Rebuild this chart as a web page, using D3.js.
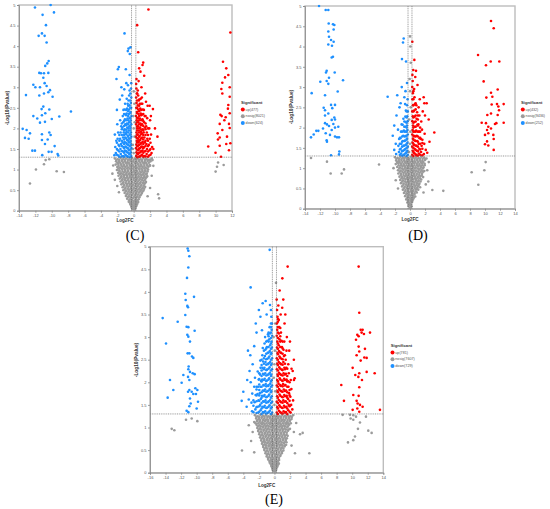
<!DOCTYPE html>
<html><head><meta charset="utf-8">
<script src="https://cdn.jsdelivr.net/npm/d3@7"></script>
<style>body{margin:0;background:#fff}svg{display:block}</style>
</head><body>
<script>
// ---------------- DATA ----------------
const yTicks = [0,0.5,1,1.5,2,2.5,3,3.5,4,4.5,5];
const C_xTicks = [-14,-12,-10,-8,-6,-4,-2,0,2,4,6,8,10,12];
const D_xTicks = [-14,-12,-10,-8,-6,-4,-2,0,2,4,6,8,10,12,14];
const E_xTicks = [-16,-14,-12,-10,-8,-6,-4,-2,0,2,4,6,8,10,12,14];
const pThreshold = 1.3;
const fcThreshold = 0.263;
const C_legend = ["up(477)","nosig(8021)","down(624)"];
const D_legend = ["up(432)","nosig(9436)","down(252)"];
const E_legend = ["up(781)","nosig(7607)","down(729)"];

// Panel C
const C_down = [
[-12.05,4.94],[-10.14,5.0],[-9.73,4.82],[-11.12,4.76],[-10.71,4.51],[-11.2,4.31],[-11.6,4.25],[-10.87,4.25],[-10.63,4.09],[-10.38,3.64],[-10.55,3.58],[-10.8,3.52],
[-11.52,3.35],[-11.32,3.34],[-10.95,3.34],[-10.42,3.35],[-11.03,3.23],[-12.25,3.06],[-12.0,3.0],[-11.44,3.0],[-10.87,3.1],[-10.63,3.03],[-10.22,2.93],[-10.42,2.88],
[-11.52,2.8],[-13.15,2.81],[-10.95,2.85],[-9.9,2.77],[-11.03,2.53],[-11.24,2.47],[-10.3,2.46],[-7.66,2.41],[-10.79,2.37],[-12.25,2.3],[-11.2,2.32],[-11.77,2.24],
[-10.0,2.23],[-9.08,2.29],[-11.44,2.14],[-10.83,2.16],[-13.07,1.96],[-13.55,1.99],[-12.66,1.88],[-11.2,1.86],[-10.3,1.9],[-10.14,1.84],[-10.5,1.73],[-13.27,1.77],
[-12.82,1.75],[-11.2,1.72],[-9.65,1.57],[-10.83,1.62],[-12.37,1.46],[-12.05,1.46],[-10.38,1.43],[-10.02,1.43],[-9.29,1.38],[-9.21,1.34],[-11.16,1.35],
[-1.12,4.31],[-0.63,3.94],[-0.39,3.97],[-0.72,3.88],[-0.48,3.81],[-1.81,3.49],[-1.93,3.44],[-0.96,3.44],[-2.1,3.2],[-1.5,3.0],[-0.9,3.1],[-1.7,2.7],[-2.05,2.45],
[-2.35,1.35],[-1.4,2.8],[-0.5,3.3],[-0.7,3.05],[-2.0,2.1],[-2.3,1.85],[-1.15,2.95],
[-0.3,1.33],[-0.35,1.42],[-0.28,1.52],[-0.33,1.61],[-0.38,1.7],[-0.29,1.8],[-0.34,1.9],[-0.4,2.0],[-0.3,2.1],[-0.36,2.2],[-0.28,2.3],[-0.39,2.4],[-0.31,2.5],[-0.35,2.62],[-0.3,2.75],[-0.4,2.85],[-0.33,2.97],[-0.3,3.1],
[-0.52,1.37],[-0.58,1.47],[-0.5,1.57],[-0.6,1.66],[-0.55,1.75],[-0.48,1.85],[-0.62,1.95],[-0.53,2.05],[-0.57,2.15],[-0.5,2.25],[-0.6,2.35],[-0.55,2.46],[-0.5,2.56],[-0.63,2.68],[-0.55,2.8],[-0.5,2.92],
[-0.78,1.32],[-0.82,1.42],[-0.75,1.52],[-0.85,1.62],[-0.8,1.72],[-0.73,1.82],[-0.88,1.92],[-0.78,2.02],[-0.83,2.12],[-0.76,2.24],[-0.86,2.36],[-0.8,2.48],[-0.74,2.6],[-0.85,2.72],
[-1.02,1.36],[-1.08,1.46],[-1.0,1.56],[-1.1,1.67],[-1.05,1.78],[-0.98,1.88],[-1.12,1.98],[-1.03,2.1],[-1.07,2.22],[-1.0,2.34],[-1.1,2.46],[-1.05,2.6],
[-1.28,1.33],[-1.33,1.44],[-1.25,1.55],[-1.35,1.66],[-1.3,1.78],[-1.22,1.9],[-1.38,2.02],[-1.28,2.15],[-1.33,2.3],[-1.25,2.45],
[-1.58,1.38],[-1.62,1.5],[-1.55,1.62],[-1.66,1.75],[-1.6,1.9],[-1.52,2.05],[-1.65,2.2],
[-1.88,1.34],[-1.93,1.47],[-1.85,1.6],[-1.96,1.75],[-1.9,1.9],
[-2.18,1.4],[-2.25,1.55],[-2.12,1.7]
];
const C_downCols = [
[-0.42,[1.3,1.39,1.48,1.57,1.66,1.76,1.85,1.95,2.05,2.15,2.26,2.37,2.5,2.68]],
[-0.67,[1.31,1.41,1.51,1.6,1.7,1.8,1.9,2.0,2.1,2.2,2.3,2.42,2.55]],
[-0.92,[1.34,1.45,1.55,1.65,1.76,1.86,1.97,2.08,2.2,2.32,2.45]],
[-1.17,[1.31,1.41,1.52,1.62,1.73,1.84,1.95,2.06,2.18,2.35]],
[-1.45,[1.32,1.45,1.57,1.7,1.84,1.98,2.12]],
[-1.75,[1.31,1.44,1.57,1.7,1.84]],
[-2.05,[1.36,1.5,1.65]]
];
const C_up = [
[11.8,4.33],[10.9,3.62],[11.3,3.46],[11.55,3.3],[11.15,3.24],[10.82,3.11],[11.72,3.0],[10.7,2.96],[10.82,2.85],[11.72,2.77],[11.55,2.57],[11.5,2.48],[11.72,2.37],
[10.58,2.33],[10.74,2.3],[11.23,2.27],[11.07,2.2],[10.5,2.11],[11.63,2.11],[11.72,2.01],[10.82,1.96],[10.25,1.88],[10.5,1.78],[11.39,1.8],[10.29,1.73],[9.1,1.56],
[10.5,1.58],[11.3,1.62],[11.63,1.47],[9.99,1.41],[10.66,1.31],[11.8,1.64],
[1.8,4.89],[0.42,4.51],[0.55,3.85],[1.16,3.6],[1.08,3.54],[0.67,3.46],[0.83,3.38],[1.28,3.28],[0.34,3.2],[0.6,3.15],[0.95,3.0],[1.4,2.85],[2.35,2.47],[2.1,2.3],
[2.9,1.8],[1.7,2.55],[2.4,1.5],[1.95,2.55],[2.6,2.0],[1.5,2.65],[2.0,2.2],
[0.3,1.33],[0.35,1.42],[0.28,1.52],[0.33,1.61],[0.38,1.7],[0.29,1.8],[0.34,1.9],[0.4,2.0],[0.3,2.1],[0.36,2.2],[0.28,2.3],[0.39,2.4],[0.31,2.5],[0.35,2.62],[0.3,2.75],[0.4,2.85],[0.33,2.97],[0.3,3.08],
[0.52,1.37],[0.58,1.47],[0.5,1.57],[0.6,1.66],[0.55,1.75],[0.48,1.85],[0.62,1.95],[0.53,2.05],[0.57,2.15],[0.5,2.25],[0.6,2.35],[0.55,2.46],[0.5,2.56],[0.63,2.68],[0.55,2.8],[0.5,2.92],
[0.78,1.32],[0.82,1.42],[0.75,1.52],[0.85,1.62],[0.8,1.72],[0.73,1.82],[0.88,1.92],[0.78,2.02],[0.83,2.12],[0.76,2.24],[0.86,2.36],[0.8,2.48],[0.74,2.6],[0.85,2.72],
[1.02,1.36],[1.08,1.46],[1.0,1.56],[1.1,1.67],[1.05,1.78],[0.98,1.88],[1.12,1.98],[1.03,2.1],[1.07,2.22],[1.0,2.34],[1.1,2.46],[1.05,2.6],[1.0,2.75],
[1.28,1.33],[1.33,1.44],[1.25,1.55],[1.35,1.66],[1.3,1.78],[1.22,1.9],[1.38,2.02],[1.28,2.15],[1.33,2.3],[1.25,2.45],
[1.58,1.38],[1.62,1.5],[1.55,1.62],[1.66,1.75],[1.6,1.9],[1.52,2.05],[1.65,2.25],
[1.88,1.34],[1.93,1.47],[1.85,1.6],[1.96,1.75],[1.9,2.0],
[2.18,1.4],[2.25,1.55],[2.12,1.85]
];
const C_upCols = [
[0.42,[1.3,1.39,1.48,1.57,1.66,1.76,1.85,1.95,2.05,2.15,2.26,2.37,2.5,2.68,2.85]],
[0.67,[1.31,1.41,1.51,1.6,1.7,1.8,1.9,2.0,2.1,2.2,2.3,2.42,2.55,2.7]],
[0.92,[1.34,1.45,1.55,1.65,1.76,1.86,1.97,2.08,2.2,2.32,2.45,2.6]],
[1.17,[1.31,1.41,1.52,1.62,1.73,1.84,1.95,2.06,2.18,2.35]],
[1.45,[1.32,1.45,1.57,1.7,1.84,1.98,2.12,2.3]],
[1.75,[1.31,1.44,1.57,1.7,1.84,2.0]],
[2.05,[1.36,1.5,1.65]]
];
const C_nosig = [
[-10.75,1.23],[-10.3,1.25],[-10.95,1.13],[-11.93,1.0],[-9.4,0.96],[-8.52,0.94],[-12.66,0.66],[10.3,1.17],[10.17,1.07],[10.98,1.11],[10.0,0.95],
[2.3,1.23],[2.4,1.09],[2.98,0.4],[3.1,0.3],[-2.6,0.9],[-2.3,0.75],[-2.0,0.6],[-1.8,0.45],[2.2,0.85],[2.0,0.55],[1.7,0.35],[-2.5,1.1],
[0.0,1.4],[-0.1,1.6],[0.1,1.8],[0.0,2.0],[-0.05,2.3],[0.08,2.6],[0.0,2.9],[-0.1,1.5],[0.12,2.15],
[-2.3,1.27],[-1.95,1.25],[-1.6,1.28],[-1.25,1.26],[-0.9,1.27],[-0.55,1.25],[-0.2,1.28],[0.15,1.26],[0.5,1.27],[0.85,1.25],[1.2,1.28],[1.55,1.26],[1.9,1.24],[2.2,1.27],
[-2.15,1.2],[-1.8,1.19],[-1.45,1.21],[-1.1,1.2],[-0.75,1.18],[-0.4,1.21],[-0.05,1.2],[0.3,1.19],[0.65,1.21],[1.0,1.2],[1.35,1.18],[1.7,1.21],[2.05,1.2],
[-2.2,1.12],[-1.9,1.14],[-1.55,1.13],[-1.2,1.12],[-0.85,1.14],[-0.5,1.13],[-0.15,1.12],[0.2,1.14],[0.55,1.13],[0.9,1.12],[1.25,1.14],[1.6,1.13],[1.95,1.11],
[-2.0,1.06],[-1.7,1.05],[-1.35,1.07],[-1.0,1.06],[-0.65,1.05],[-0.3,1.07],[0.05,1.06],[0.4,1.05],[0.75,1.07],[1.1,1.06],[1.45,1.05],[1.8,1.07],
[-2.05,0.99],[-1.75,0.98],[-1.4,1.0],[-1.05,0.99],[-0.7,0.98],[-0.35,1.0],[0.0,0.99],[0.35,0.98],[0.7,1.0],[1.05,0.99],[1.4,0.98],[1.75,1.0],
[-1.9,0.92],[-1.55,0.91],[-1.2,0.93],[-0.85,0.92],[-0.5,0.91],[-0.15,0.93],[0.2,0.92],[0.55,0.91],[0.9,0.93],[1.25,0.92],[1.6,0.9],
[-1.85,0.85],[-1.5,0.84],[-1.15,0.86],[-0.8,0.85],[-0.45,0.84],[-0.1,0.86],[0.25,0.85],[0.6,0.84],[0.95,0.86],[1.3,0.85],[1.65,0.84],
[-1.7,0.78],[-1.35,0.77],[-1.0,0.79],[-0.65,0.78],[-0.3,0.77],[0.05,0.79],[0.4,0.78],[0.75,0.77],[1.1,0.79],[1.45,0.78],
[-1.6,0.71],[-1.25,0.7],[-0.9,0.72],[-0.55,0.71],[-0.2,0.7],[0.15,0.72],[0.5,0.71],[0.85,0.7],[1.2,0.72],[1.5,0.7],
[-1.5,0.64],[-1.15,0.63],[-0.8,0.65],[-0.45,0.64],[-0.1,0.63],[0.25,0.65],[0.6,0.64],[0.95,0.63],[1.3,0.65],
[-1.35,0.57],[-1.0,0.56],[-0.65,0.58],[-0.3,0.57],[0.05,0.56],[0.4,0.58],[0.75,0.57],[1.1,0.56],[1.4,0.58],
[-1.25,0.5],[-0.9,0.49],[-0.55,0.51],[-0.2,0.5],[0.15,0.49],[0.5,0.51],[0.85,0.5],[1.2,0.49],
[-1.1,0.43],[-0.75,0.42],[-0.4,0.44],[-0.05,0.43],[0.3,0.42],[0.65,0.44],[1.0,0.43],
[-0.95,0.36],[-0.6,0.35],[-0.25,0.37],[0.1,0.36],[0.45,0.35],[0.8,0.37],
[-0.8,0.29],[-0.45,0.28],[-0.1,0.3],[0.25,0.29],[0.6,0.28],
[-0.6,0.22],[-0.3,0.21],[0.0,0.23],[0.3,0.22],[0.55,0.21],
[-0.4,0.15],[-0.12,0.14],[0.15,0.16],[0.4,0.15],
[-0.25,0.08],[0.0,0.09],[0.22,0.07],[-0.08,0.03],[0.08,0.02]
];
const C_nosigRows = [
[1.235,[-2.12,-1.77,-1.42,-1.07,-0.72,-0.37,-0.02,0.33,0.68,1.03,1.38,1.73,2.05]],
[1.165,[-2.0,-1.65,-1.3,-0.95,-0.6,-0.25,0.1,0.45,0.8,1.15,1.5,1.85]],
[1.095,[-1.85,-1.5,-1.15,-0.8,-0.45,-0.1,0.25,0.6,0.95,1.3,1.65,2.0]],
[1.025,[-1.85,-1.5,-1.15,-0.8,-0.45,-0.1,0.25,0.6,0.95,1.3,1.65]],
[0.955,[-1.72,-1.37,-1.02,-0.67,-0.32,0.03,0.38,0.73,1.08,1.43,1.7]],
[0.885,[-1.67,-1.32,-0.97,-0.62,-0.27,0.08,0.43,0.78,1.13,1.48]],
[0.815,[-1.52,-1.17,-0.82,-0.47,-0.12,0.23,0.58,0.93,1.28,1.55]],
[0.745,[-1.42,-1.07,-0.72,-0.37,-0.02,0.33,0.68,1.03,1.35]],
[0.675,[-1.32,-0.97,-0.62,-0.27,0.08,0.43,0.78,1.13,1.4]],
[0.605,[-1.2,-0.85,-0.5,-0.15,0.2,0.55,0.9,1.22]],
[0.535,[-1.08,-0.73,-0.38,-0.03,0.32,0.67,1.0,1.28]],
[0.465,[-0.98,-0.63,-0.28,0.07,0.42,0.77,1.08]],
[0.395,[-0.85,-0.5,-0.15,0.2,0.55,0.9]],
[0.325,[-0.7,-0.35,0.0,0.35,0.7]],
[0.255,[-0.55,-0.2,0.15,0.45]],
[0.185,[-0.45,-0.25,-0.02,0.22,0.45]],
[0.115,[-0.3,-0.05,0.15,0.32]],
[0.05,[-0.18,0.02,0.18]]
];

// Panel D
const D_down = [
[-12.13,5.0],[-11.24,4.9],[-10.89,4.9],[-10.84,4.57],[-10.27,4.55],[-10.09,4.53],[-10.18,4.42],[-10.89,4.37],[-10.8,4.24],[-10.53,4.16],[-10.18,4.12],[-10.89,4.05],
[-10.4,4.02],[-10.27,3.75],[-10.44,3.73],[-11.11,3.4],[-11.2,3.36],[-10.04,3.36],[-10.8,3.23],[-8.93,3.17],[-11.96,3.13],[-11.11,3.15],[-10.89,3.08],[-9.64,2.89],
[-13.11,2.85],[-11.33,2.8],[-10.53,2.56],[-10.0,2.56],[-11.51,2.49],[-11.33,2.43],[-10.36,2.48],[-10.89,2.35],[-11.33,2.3],[-10.09,2.25],[-10.0,2.2],[-10.44,2.19],
[-11.07,2.08],[-11.33,2.11],[-10.8,2.04],[-10.22,2.09],[-11.6,1.98],[-10.0,2.0],[-12.49,1.92],[-12.22,1.92],[-10.44,1.94],[-9.56,2.02],[-11.24,1.86],[-10.0,1.78],
[-9.73,1.76],[-9.47,1.76],[-12.84,1.83],[-13.2,1.76],[-10.67,1.82],[-11.11,1.69],[-11.07,1.65],[-9.42,1.41],[-9.47,1.34],[-10.53,1.32],
[-0.84,4.2],[-0.93,4.1],[-1.07,3.69],[-0.53,3.63],[-2.98,2.76],[-1.1,3.0],[-0.6,2.9],[-1.4,2.5],[-1.8,2.3],[-2.1,2.05],[-0.4,3.1],[-0.75,2.75],[-1.25,2.6],[-2.3,1.8],[-1.7,2.8],
[-0.3,1.33],[-0.36,1.43],[-0.29,1.53],[-0.34,1.63],[-0.4,1.73],[-0.3,1.83],[-0.35,1.94],[-0.41,2.05],[-0.31,2.16],[-0.37,2.28],[-0.3,2.4],[-0.4,2.55],[-0.33,2.7],
[-0.58,1.37],[-0.63,1.47],[-0.55,1.57],[-0.66,1.68],[-0.6,1.79],[-0.53,1.9],[-0.68,2.02],[-0.58,2.14],[-0.62,2.27],[-0.55,2.42],[-0.65,2.58],
[-0.88,1.32],[-0.93,1.43],[-0.85,1.55],[-0.96,1.67],[-0.9,1.8],[-0.82,1.93],[-0.98,2.07],[-0.88,2.22],
[-1.18,1.36],[-1.24,1.48],[-1.15,1.6],[-1.27,1.74],[-1.2,1.9],[-1.12,2.08],
[-1.48,1.4],[-1.55,1.55],[-1.45,1.72],[-1.6,1.95],
[-1.85,1.35],[-1.9,1.6],[-2.1,1.45]
];
const D_downCols = [
[-0.45,[1.3,1.4,1.5,1.6,1.7,1.8,1.9,2.0,2.12,2.25,2.4]],
[-0.75,[1.34,1.45,1.56,1.67,1.78,1.9,2.02,2.15]],
[-1.05,[1.31,1.42,1.53,1.65,1.78,1.9]],
[-1.35,[1.33,1.46,1.6,1.75]]
];
const D_up = [
[10.8,4.63],[11.16,4.45],[9.07,3.79],[10.76,3.63],[11.91,3.63],[10.13,3.54],[9.82,3.14],[11.69,2.94],[10.8,2.86],[10.98,2.76],[10.18,2.74],[12.49,2.58],[10.89,2.57],
[11.6,2.58],[11.78,2.52],[11.87,2.43],[10.8,2.35],[11.69,2.31],[10.31,2.31],[9.56,2.12],[10.13,2.11],[12.49,2.12],[11.33,2.09],[11.51,2.11],[10.44,2.02],[10.27,1.94],
[10.8,1.98],[10.44,1.86],[11.11,1.82],[11.16,1.72],[10.0,1.82],[10.27,1.66],[10.0,1.59],[10.44,1.56],[11.16,1.45],
[0.31,4.12],[0.58,3.67],[0.44,3.42],[0.7,3.25],[3.24,1.88],[2.49,2.2],[1.91,2.6],[2.22,2.6],[1.82,2.75],[1.0,3.05],[1.3,2.7],[0.8,3.4],[2.6,1.65],[1.7,2.4],[2.0,2.3],
[0.3,1.33],[0.36,1.43],[0.29,1.53],[0.34,1.63],[0.4,1.73],[0.3,1.83],[0.35,1.94],[0.41,2.05],[0.31,2.16],[0.37,2.28],[0.3,2.4],[0.4,2.55],[0.33,2.7],[0.38,2.85],[0.3,3.0],[0.36,3.15],[0.32,3.3],
[0.58,1.37],[0.63,1.47],[0.55,1.57],[0.66,1.68],[0.6,1.79],[0.53,1.9],[0.68,2.02],[0.58,2.14],[0.62,2.27],[0.55,2.42],[0.65,2.58],[0.6,2.75],[0.55,2.95],
[0.88,1.32],[0.93,1.43],[0.85,1.55],[0.96,1.67],[0.9,1.8],[0.82,1.93],[0.98,2.07],[0.88,2.22],[0.95,2.38],[0.85,2.55],
[1.18,1.36],[1.24,1.48],[1.15,1.6],[1.27,1.74],[1.2,1.9],[1.12,2.08],[1.25,2.3],[1.15,2.5],
[1.48,1.4],[1.55,1.55],[1.45,1.72],[1.6,1.95],[1.5,2.15],
[1.85,1.35],[1.9,1.6],[2.1,1.45],[1.95,1.85],[2.3,1.38]
];
const D_upCols = [
[0.45,[1.3,1.4,1.5,1.6,1.7,1.8,1.9,2.0,2.12,2.25,2.4,2.55,2.7,2.9]],
[0.75,[1.34,1.45,1.56,1.67,1.78,1.9,2.02,2.15,2.3,2.45,2.6]],
[1.05,[1.31,1.42,1.53,1.65,1.78,1.9,2.05,2.2,2.3]],
[1.35,[1.33,1.46,1.6,1.75,1.9,2.0]],
[1.65,[1.32,1.48,1.62,1.7]]
];
const D_nosig = [
[-13.2,1.25],[-11.07,1.16],[-10.58,0.87],[-9.11,0.87],[-8.8,0.97],[-4.13,1.09],[2.98,0.46],[4.44,0.44],[2.44,0.67],[10.09,1.15],[9.91,0.95],[8.22,0.9],[9.11,0.59],
[-2.2,1.0],[-1.9,0.7],[2.3,0.95],[2.1,0.6],[-1.6,0.5],[1.8,0.4],[2.5,1.15],
[0.0,4.25],[0.05,4.0],[0.1,3.6],[-0.05,3.2],[0.0,2.9],[0.1,2.5],[-0.1,2.2],[0.05,1.9],[0.0,1.6],[-0.12,1.4],
[-2.0,1.27],[-1.65,1.25],[-1.3,1.28],[-0.95,1.26],[-0.6,1.27],[-0.25,1.25],[0.1,1.28],[0.45,1.26],[0.8,1.27],[1.15,1.25],[1.5,1.28],[1.85,1.26],[2.2,1.24],
[-1.85,1.19],[-1.5,1.18],[-1.15,1.2],[-0.8,1.19],[-0.45,1.18],[-0.1,1.2],[0.25,1.19],[0.6,1.18],[0.95,1.2],[1.3,1.19],[1.65,1.18],[2.0,1.2],
[-1.9,1.1],[-1.55,1.12],[-1.2,1.11],[-0.85,1.1],[-0.5,1.12],[-0.15,1.11],[0.2,1.1],[0.55,1.12],[0.9,1.11],[1.25,1.1],[1.6,1.12],[1.95,1.11],
[-1.7,1.03],[-1.35,1.02],[-1.0,1.04],[-0.65,1.03],[-0.3,1.02],[0.05,1.04],[0.4,1.03],[0.75,1.02],[1.1,1.04],[1.45,1.03],[1.8,1.02],
[-1.6,0.95],[-1.25,0.94],[-0.9,0.96],[-0.55,0.95],[-0.2,0.94],[0.15,0.96],[0.5,0.95],[0.85,0.94],[1.2,0.96],[1.55,0.95],[1.9,0.93],
[-1.55,0.87],[-1.2,0.86],[-0.85,0.88],[-0.5,0.87],[-0.15,0.86],[0.2,0.88],[0.55,0.87],[0.9,0.86],[1.25,0.88],[1.6,0.87],
[-1.4,0.79],[-1.05,0.78],[-0.7,0.8],[-0.35,0.79],[0.0,0.78],[0.35,0.8],[0.7,0.79],[1.05,0.78],[1.4,0.8],[1.75,0.78],
[-1.3,0.71],[-0.95,0.7],[-0.6,0.72],[-0.25,0.71],[0.1,0.7],[0.45,0.72],[0.8,0.71],[1.15,0.7],[1.5,0.72],
[-1.2,0.63],[-0.85,0.62],[-0.5,0.64],[-0.15,0.63],[0.2,0.62],[0.55,0.64],[0.9,0.63],[1.25,0.62],
[-1.05,0.55],[-0.7,0.54],[-0.35,0.56],[0.0,0.55],[0.35,0.54],[0.7,0.56],[1.05,0.55],[1.35,0.53],
[-0.95,0.47],[-0.6,0.46],[-0.25,0.48],[0.1,0.47],[0.45,0.46],[0.8,0.48],[1.1,0.47],
[-0.8,0.39],[-0.45,0.38],[-0.1,0.4],[0.25,0.39],[0.6,0.38],[0.9,0.4],
[-0.65,0.31],[-0.3,0.3],[0.05,0.32],[0.4,0.31],[0.7,0.3],
[-0.5,0.23],[-0.2,0.22],[0.1,0.24],[0.4,0.23],
[-0.35,0.15],[-0.05,0.14],[0.25,0.16],
[-0.2,0.07],[0.05,0.08],[0.2,0.06],[-0.05,0.02],[0.08,0.03]
];
const D_nosigRows = [
[1.23,[-1.82,-1.47,-1.12,-0.77,-0.42,-0.07,0.28,0.63,0.98,1.33,1.68,2.03]],
[1.15,[-1.72,-1.37,-1.02,-0.67,-0.32,0.03,0.38,0.73,1.08,1.43,1.78]],
[1.07,[-1.52,-1.17,-0.82,-0.47,-0.12,0.23,0.58,0.93,1.28,1.63,1.95]],
[0.99,[-1.42,-1.07,-0.72,-0.37,-0.02,0.33,0.68,1.03,1.38,1.72]],
[0.91,[-1.37,-1.02,-0.67,-0.32,0.03,0.38,0.73,1.08,1.43,1.75]],
[0.83,[-1.22,-0.87,-0.52,-0.17,0.18,0.53,0.88,1.23,1.58]],
[0.75,[-1.12,-0.77,-0.42,-0.07,0.28,0.63,0.98,1.33]],
[0.67,[-1.02,-0.67,-0.32,0.03,0.38,0.73,1.08,1.4]],
[0.59,[-0.87,-0.52,-0.17,0.18,0.53,0.88,1.2]],
[0.51,[-0.77,-0.42,-0.07,0.28,0.63,0.95]],
[0.43,[-0.62,-0.27,0.08,0.43,0.78]],
[0.35,[-0.47,-0.12,0.23,0.58]],
[0.27,[-0.35,-0.05,0.25,0.52]],
[0.19,[-0.25,0.05,0.3]],
[0.11,[-0.12,0.1]]
];

// Panel E
const E_down = [
[-11.16,4.96],[-11.07,4.91],[-10.94,4.79],[-11.07,4.54],[-11.24,4.31],[-11.46,3.96],[-10.34,3.89],[-11.41,3.82],[-11.2,3.69],[-11.11,3.66],[-11.46,3.49],[-14.37,3.42],
[-12.44,3.34],[-11.29,3.23],[-11.07,3.22],[-10.26,3.14],[-11.2,3.05],[-11.07,3.01],[-13.94,2.86],[-10.86,2.9],[-11.16,2.64],[-10.94,2.64],[-10.6,2.57],[-10.43,2.54],
[-11.03,2.35],[-11.07,2.29],[-10.86,2.23],[-10.51,2.2],[-10.26,2.18],[-11.71,2.16],[-11.11,2.12],[-13.43,2.05],[-11.93,1.99],[-10.94,2.05],[-10.17,1.87],[-10.94,1.83],
[-11.11,1.79],[-10.64,1.79],[-9.91,1.83],[-10.43,1.74],[-13.0,1.83],[-10.09,1.74],[-13.73,1.66],[-9.83,1.57],[-10.86,1.64],[-10.77,1.53],[-10.94,1.47],[-10.0,1.42],
[-11.29,1.37],[-11.07,1.34],
[-0.61,4.93],[-3.06,4.1],[-1.13,3.8],[-1.51,3.75],[-0.57,3.71],[-4.0,1.79],[-4.21,1.59],[-3.57,1.46],[-3.3,1.62],[-2.0,3.6],[-1.8,3.45],[-2.3,3.1],[-2.6,2.8],
[-3.1,2.6],[-3.4,2.7],[-2.8,2.4],[-3.2,2.25],[-1.0,3.5],[-0.45,3.6],[-2.4,3.3],[-1.6,3.15],[-3.5,2.05],
[-0.3,1.33],[-0.36,1.45],[-0.29,1.57],[-0.34,1.69],[-0.4,1.81],[-0.3,1.93],[-0.35,2.05],[-0.41,2.17],[-0.31,2.29],[-0.37,2.41],[-0.3,2.53],[-0.4,2.65],[-0.33,2.77],[-0.38,2.9],[-0.3,3.03],[-0.36,3.16],[-0.32,3.3],[-0.4,3.45],
[-0.58,1.37],[-0.63,1.49],[-0.55,1.61],[-0.66,1.73],[-0.6,1.85],[-0.53,1.97],[-0.68,2.09],[-0.58,2.21],[-0.62,2.33],[-0.55,2.45],[-0.65,2.57],[-0.6,2.69],[-0.55,2.82],[-0.66,2.95],[-0.58,3.08],[-0.62,3.22],
[-0.88,1.32],[-0.93,1.44],[-0.85,1.56],[-0.96,1.68],[-0.9,1.8],[-0.82,1.92],[-0.98,2.04],[-0.88,2.16],[-0.95,2.28],[-0.85,2.4],[-0.92,2.52],[-0.86,2.65],[-0.97,2.78],[-0.9,2.92],[-0.84,3.06],
[-1.18,1.36],[-1.24,1.48],[-1.15,1.6],[-1.27,1.72],[-1.2,1.84],[-1.12,1.96],[-1.25,2.08],[-1.18,2.2],[-1.28,2.32],[-1.15,2.45],[-1.22,2.58],[-1.17,2.72],[-1.27,2.86],[-1.2,3.0],
[-1.48,1.34],[-1.55,1.46],[-1.45,1.58],[-1.58,1.7],[-1.5,1.82],[-1.42,1.94],[-1.56,2.06],[-1.48,2.19],[-1.53,2.32],[-1.45,2.46],[-1.55,2.6],[-1.5,2.76],
[-1.78,1.38],[-1.84,1.5],[-1.75,1.63],[-1.88,1.76],[-1.8,1.9],[-1.72,2.03],[-1.85,2.17],[-1.78,2.32],[-1.82,2.48],
[-2.08,1.33],[-2.15,1.46],[-2.05,1.6],[-2.18,1.74],[-2.1,1.9],[-2.02,2.06],[-2.15,2.24],
[-2.45,1.4],[-2.55,1.56],[-2.42,1.72],[-2.6,1.9],[-2.5,2.1],
[-2.88,1.36],[-2.95,1.55],[-2.85,1.75],[-3.05,2.0]
];
const E_downCols = [
[-0.45,[1.3,1.42,1.54,1.66,1.78,1.9,2.02,2.14,2.26,2.38,2.5,2.62,2.74,2.86,2.98,3.1,3.22,3.3]],
[-0.75,[1.34,1.46,1.58,1.7,1.82,1.94,2.06,2.18,2.3,2.42,2.54,2.66,2.78,2.9,3.02,3.1]],
[-1.05,[1.31,1.43,1.55,1.67,1.79,1.91,2.03,2.15,2.27,2.39,2.51,2.63,2.75,2.9]],
[-1.35,[1.33,1.45,1.57,1.69,1.81,1.93,2.05,2.17,2.29,2.41,2.53,2.7]],
[-1.65,[1.3,1.42,1.54,1.66,1.78,1.9,2.02,2.14,2.26,2.38,2.5]],
[-1.95,[1.35,1.47,1.59,1.71,1.83,1.95,2.07,2.2]],
[-2.3,[1.32,1.45,1.58,1.71,1.84,1.9]],
[-2.7,[1.34,1.48,1.6]]
];
const E_up = [
[10.83,4.56],[10.91,3.54],[11.09,3.16],[11.34,3.16],[11.21,3.1],[12.29,3.1],[10.66,3.05],[10.83,3.02],[10.49,2.94],[11.51,3.07],[10.83,2.79],[11.64,2.74],[10.91,2.68],
[10.57,2.6],[11.56,2.55],[11.86,2.54],[11.09,2.48],[10.06,2.32],[11.86,2.23],[12.89,2.2],[10.4,2.16],[10.79,2.12],[10.91,2.2],[11.26,2.05],[8.6,1.94],[10.91,1.89],
[10.14,1.72],[10.83,1.7],[8.94,1.59],[10.57,1.59],[11.0,1.5],[11.34,1.46],[10.06,1.39],[10.66,1.42],[10.91,1.35],[13.57,1.39],[10.7,1.53],
[1.7,4.56],[1.02,4.3],[0.67,4.03],[0.29,3.83],[1.14,3.83],[2.6,2.09],[2.51,2.05],[0.8,3.5],[1.3,3.3],[1.0,3.65],[1.6,3.0],[2.4,1.6],[2.5,2.5],[1.9,2.7],[2.3,1.4],
[0.5,3.7],[1.4,3.5],[2.0,2.9],[2.35,2.25],
[0.3,1.33],[0.36,1.45],[0.29,1.57],[0.34,1.69],[0.4,1.81],[0.3,1.93],[0.35,2.05],[0.41,2.17],[0.31,2.29],[0.37,2.41],[0.3,2.53],[0.4,2.65],[0.33,2.77],[0.38,2.9],[0.3,3.03],[0.36,3.16],[0.32,3.3],[0.4,3.45],[0.34,3.6],
[0.58,1.37],[0.63,1.49],[0.55,1.61],[0.66,1.73],[0.6,1.85],[0.53,1.97],[0.68,2.09],[0.58,2.21],[0.62,2.33],[0.55,2.45],[0.65,2.57],[0.6,2.69],[0.55,2.82],[0.66,2.95],[0.58,3.08],[0.62,3.22],[0.56,3.38],
[0.88,1.32],[0.93,1.44],[0.85,1.56],[0.96,1.68],[0.9,1.8],[0.82,1.92],[0.98,2.04],[0.88,2.16],[0.95,2.28],[0.85,2.4],[0.92,2.52],[0.86,2.65],[0.97,2.78],[0.9,2.92],[0.84,3.1],
[1.18,1.36],[1.24,1.48],[1.15,1.6],[1.27,1.72],[1.2,1.84],[1.12,1.96],[1.25,2.08],[1.18,2.2],[1.28,2.32],[1.15,2.45],[1.22,2.58],[1.17,2.72],[1.27,2.9],
[1.48,1.34],[1.55,1.46],[1.45,1.58],[1.58,1.7],[1.5,1.82],[1.42,1.94],[1.56,2.06],[1.48,2.19],[1.53,2.32],[1.45,2.5],[1.55,2.7],
[1.78,1.38],[1.84,1.5],[1.75,1.63],[1.88,1.76],[1.8,1.9],[1.72,2.03],[1.85,2.2],[1.78,2.4],
[2.08,1.33],[2.15,1.5],[2.05,1.68],[2.18,1.85],[2.1,2.05],[2.2,2.3]
];
const E_upCols = [
[0.45,[1.3,1.42,1.54,1.66,1.78,1.9,2.02,2.14,2.26,2.38,2.5,2.62,2.74,2.86,2.98,3.1,3.22,3.34,3.4]],
[0.75,[1.34,1.46,1.58,1.7,1.82,1.94,2.06,2.18,2.3,2.42,2.54,2.66,2.78,2.9,3.02,3.2]],
[1.05,[1.31,1.43,1.55,1.67,1.79,1.91,2.03,2.15,2.27,2.39,2.51,2.63,2.75,2.9]],
[1.35,[1.33,1.45,1.57,1.69,1.81,1.93,2.05,2.17,2.29,2.41,2.6]],
[1.65,[1.3,1.42,1.54,1.66,1.78,1.9,2.02,2.14,2.3]],
[1.95,[1.35,1.47,1.59,1.71,1.83,2.0]]
];
const E_nosig = [
[-11.37,1.17],[-10.64,1.2],[-9.91,1.14],[-13.21,0.97],[-12.87,0.94],[8.77,1.28],[9.71,1.28],[10.14,1.27],[9.8,1.2],[10.14,1.17],[10.49,1.24],[11.0,1.11],[10.74,0.97],
[10.36,0.8],[10.14,0.72],[9.46,0.67],[11.77,1.24],[12.07,0.93],[12.5,0.88],[-4.17,0.49],[3.63,0.88],[3.29,0.85],[4.49,0.43],[2.64,0.43],[-2.8,0.9],[-3.0,0.7],
[-2.6,0.45],[2.5,0.9],[2.8,1.1],[-3.3,1.05],[2.2,0.6],
[0.2,4.2],[-0.1,3.0],[0.05,2.7],[0.0,2.4],[-0.08,2.1],[0.1,1.8],[0.0,1.5],[0.1,3.3],
[-2.5,1.27],[-2.15,1.25],[-1.8,1.28],[-1.45,1.26],[-1.1,1.27],[-0.75,1.25],[-0.4,1.28],[-0.05,1.26],[0.3,1.27],[0.65,1.25],[1.0,1.28],[1.35,1.26],[1.7,1.27],[2.05,1.25],[2.4,1.27],
[-2.35,1.2],[-2.0,1.19],[-1.65,1.21],[-1.3,1.2],[-0.95,1.18],[-0.6,1.21],[-0.25,1.2],[0.1,1.19],[0.45,1.21],[0.8,1.2],[1.15,1.18],[1.5,1.21],[1.85,1.2],[2.2,1.19],
[-2.6,1.12],[-2.25,1.14],[-1.9,1.13],[-1.55,1.12],[-1.2,1.14],[-0.85,1.13],[-0.5,1.12],[-0.15,1.14],[0.2,1.13],[0.55,1.12],[0.9,1.14],[1.25,1.13],[1.6,1.12],[1.95,1.14],
[-2.3,1.06],[-1.95,1.05],[-1.6,1.07],[-1.25,1.06],[-0.9,1.05],[-0.55,1.07],[-0.2,1.06],[0.15,1.05],[0.5,1.07],[0.85,1.06],[1.2,1.05],[1.55,1.07],[1.9,1.06],
[-2.2,0.99],[-1.85,0.98],[-1.5,1.0],[-1.15,0.99],[-0.8,0.98],[-0.45,1.0],[-0.1,0.99],[0.25,0.98],[0.6,1.0],[0.95,0.99],[1.3,0.98],[1.65,1.0],[2.0,0.97],
[-2.1,0.92],[-1.75,0.91],[-1.4,0.93],[-1.05,0.92],[-0.7,0.91],[-0.35,0.93],[0.0,0.92],[0.35,0.91],[0.7,0.93],[1.05,0.92],[1.4,0.91],[1.75,0.93],
[-1.95,0.85],[-1.6,0.84],[-1.25,0.86],[-0.9,0.85],[-0.55,0.84],[-0.2,0.86],[0.15,0.85],[0.5,0.84],[0.85,0.86],[1.2,0.85],[1.55,0.84],
[-1.85,0.78],[-1.5,0.77],[-1.15,0.79],[-0.8,0.78],[-0.45,0.77],[-0.1,0.79],[0.25,0.78],[0.6,0.77],[0.95,0.79],[1.3,0.78],[1.6,0.76],
[-1.7,0.71],[-1.35,0.7],[-1.0,0.72],[-0.65,0.71],[-0.3,0.7],[0.05,0.72],[0.4,0.71],[0.75,0.7],[1.1,0.72],[1.45,0.71],
[-1.6,0.64],[-1.25,0.63],[-0.9,0.65],[-0.55,0.64],[-0.2,0.63],[0.15,0.65],[0.5,0.64],[0.85,0.63],[1.2,0.65],[1.5,0.62],
[-1.45,0.57],[-1.1,0.56],[-0.75,0.58],[-0.4,0.57],[-0.05,0.56],[0.3,0.58],[0.65,0.57],[1.0,0.56],[1.3,0.58],
[-1.3,0.5],[-0.95,0.49],[-0.6,0.51],[-0.25,0.5],[0.1,0.49],[0.45,0.51],[0.8,0.5],[1.15,0.49],
[-1.15,0.43],[-0.8,0.42],[-0.45,0.44],[-0.1,0.43],[0.25,0.42],[0.6,0.44],[0.95,0.43],
[-1.0,0.36],[-0.65,0.35],[-0.3,0.37],[0.05,0.36],[0.4,0.35],[0.75,0.37],
[-0.8,0.29],[-0.45,0.28],[-0.1,0.3],[0.25,0.29],[0.6,0.28],
[-0.6,0.22],[-0.3,0.21],[0.0,0.23],[0.3,0.22],[0.55,0.21],
[-0.4,0.15],[-0.12,0.14],[0.15,0.16],[0.4,0.15],
[-0.25,0.08],[0.0,0.09],[0.22,0.07],[-0.08,0.03],[0.08,0.02]
];
const E_nosigRows = [
[1.235,[-2.32,-1.97,-1.62,-1.27,-0.92,-0.57,-0.22,0.13,0.48,0.83,1.18,1.53,1.88,2.23]],
[1.165,[-2.17,-1.82,-1.47,-1.12,-0.77,-0.42,-0.07,0.28,0.63,0.98,1.33,1.68,2.03]],
[1.095,[-2.42,-2.07,-1.72,-1.37,-1.02,-0.67,-0.32,0.03,0.38,0.73,1.08,1.43,1.78,2.1]],
[1.025,[-2.12,-1.77,-1.42,-1.07,-0.72,-0.37,-0.02,0.33,0.68,1.03,1.38,1.73]],
[0.955,[-2.02,-1.67,-1.32,-0.97,-0.62,-0.27,0.08,0.43,0.78,1.13,1.48,1.82]],
[0.885,[-1.92,-1.57,-1.22,-0.87,-0.52,-0.17,0.18,0.53,0.88,1.23,1.58]],
[0.815,[-1.77,-1.42,-1.07,-0.72,-0.37,-0.02,0.33,0.68,1.03,1.38,1.7]],
[0.745,[-1.67,-1.32,-0.97,-0.62,-0.27,0.08,0.43,0.78,1.13,1.45]],
[0.675,[-1.52,-1.17,-0.82,-0.47,-0.12,0.23,0.58,0.93,1.28,1.55]],
[0.605,[-1.42,-1.07,-0.72,-0.37,-0.02,0.33,0.68,1.03,1.35]],
[0.535,[-1.27,-0.92,-0.57,-0.22,0.13,0.48,0.83,1.15]],
[0.465,[-1.12,-0.77,-0.42,-0.07,0.28,0.63,0.98]],
[0.395,[-0.97,-0.62,-0.27,0.08,0.43,0.78]],
[0.325,[-0.82,-0.47,-0.12,0.23,0.58]],
[0.255,[-0.62,-0.27,0.08,0.43]],
[0.185,[-0.45,-0.2,0.05,0.3,0.5]],
[0.115,[-0.3,-0.05,0.15,0.32]],
[0.05,[-0.18,0.02,0.18]]
];

// ---------------- LAYOUT ----------------
const fromCols = cols => cols.flatMap(([x,ys]) => ys.map(y => [x,y]));
const fromRows = rows => rows.flatMap(([y,xs]) => xs.map(x => [x,y]));
const COLORS = {up:"#ff0000", nosig:"#9b9b9b", down:"#1e90ff"};
const panels = [
  {tag:"(C)", box:[19,232,5,210.7], xDomain:[-14,12], xTicks:C_xTicks,
   up:C_up.concat(fromCols(C_upCols)), nosig:C_nosig.concat(fromRows(C_nosigRows)), down:C_down.concat(fromCols(C_downCols)), legend:C_legend,
   leg:[241,103], yLab:[7,108], xLab:[125,222], tagPos:[135,240]},
  {tag:"(D)", box:[305,515,6,208.7], xDomain:[-14,14], xTicks:D_xTicks,
   up:D_up.concat(fromCols(D_upCols)), nosig:D_nosig.concat(fromRows(D_nosigRows)), down:D_down.concat(fromCols(D_downCols)), legend:D_legend,
   leg:[521,103], yLab:[291,107], xLab:[410,221], tagPos:[418,240]},
  {tag:"(E)", box:[150,383.3,246.7,472.7], xDomain:[-16,14], xTicks:E_xTicks,
   up:E_up.concat(fromCols(E_upCols)), nosig:E_nosig.concat(fromRows(E_nosigRows)), down:E_down.concat(fromCols(E_downCols)), legend:E_legend,
   leg:[390.7,346], yLab:[136,360], xLab:[266.7,487], tagPos:[274,504]}
];

const svg = d3.select("body").append("svg").attr("width",550).attr("height",509);
const FONT = "Liberation Sans, Arial, sans-serif";

panels.forEach(p => {
  const [L,R,T,B] = p.box;
  const g = svg.append("g");
  const x = d3.scaleLinear().domain(p.xDomain).range([L,R]);
  const y = d3.scaleLinear().domain([0,5]).range([B,T]);

  g.append("rect").attr("x",L).attr("y",T).attr("width",R-L).attr("height",B-T)
    .attr("fill","none").attr("stroke","#bdbdbd").attr("stroke-width",1.4);

  const clip = "clip"+p.tag.replace(/\W/g,"");
  svg.append("clipPath").attr("id",clip).append("rect").attr("x",L).attr("y",T-1.5).attr("width",R-L+1.5).attr("height",B-T+1.5);
  const pts = g.append("g").attr("clip-path",`url(#${clip})`);
  [["nosig",p.nosig],["down",p.down],["up",p.up]].forEach(([k,arr]) => {
    pts.selectAll(null).data(arr).join("circle")
      .attr("cx",d=>x(d[0])).attr("cy",d=>y(d[1])).attr("r",1.3).attr("fill",COLORS[k]);
  });

  // thresholds
  const dash = {"stroke":"#555","stroke-width":0.6,"stroke-dasharray":"1,0.8"};
  const hl = g.append("line").attr("x1",L).attr("x2",R).attr("y1",y(pThreshold)).attr("y2",y(pThreshold));
  const v1 = g.append("line").attr("x1",x(-fcThreshold)).attr("x2",x(-fcThreshold)).attr("y1",B).attr("y2",T);
  const v2 = g.append("line").attr("x1",x(fcThreshold)).attr("x2",x(fcThreshold)).attr("y1",B).attr("y2",T);
  [hl,v1,v2].forEach(l => Object.entries(dash).forEach(([a,v]) => l.attr(a,v)));

  // axes
  const ax = g.append("g").attr("transform",`translate(0,${B})`)
    .call(d3.axisBottom(x).tickValues(p.xTicks).tickSize(2).tickPadding(1).tickFormat(d=>String(d)));
  const ay = g.append("g").attr("transform",`translate(${L},0)`)
    .call(d3.axisLeft(y).tickValues(yTicks).tickSize(2).tickPadding(1.5).tickFormat(d=>String(d)));
  [ax,ay].forEach(a => {
    a.selectAll("path,line").attr("stroke","#888").attr("stroke-width",0.8);
    a.selectAll("text").attr("font-size",4).attr("fill","#555").attr("font-family",FONT);
  });

  // axis titles
  g.append("text").attr("x",p.xLab[0]).attr("y",p.xLab[1]).attr("text-anchor","middle")
    .attr("font-family",FONT).attr("font-weight","bold").attr("font-size",4.6).attr("fill","#333").text("Log2FC");
  g.append("text").attr("transform",`translate(${p.yLab[0]},${p.yLab[1]}) rotate(-90)`).attr("text-anchor","middle")
    .attr("dy","0.35em").attr("font-family",FONT).attr("font-weight","bold").attr("font-size",4.8).attr("fill","#333").text("-Log10(Pvalue)");

  // legend
  const lg = g.append("g").attr("transform",`translate(${p.leg[0]},${p.leg[1]})`);
  lg.append("text").attr("x",0).attr("y",0).attr("dy","0.35em").attr("font-family",FONT)
    .attr("font-weight","bold").attr("font-size",4.2).attr("fill","#333").text("Significant");
  ["up","nosig","down"].forEach((k,i) => {
    const yy = 6.5 + i*6.7;
    lg.append("circle").attr("cx",1.8).attr("cy",yy).attr("r",2).attr("fill",COLORS[k]);
    lg.append("text").attr("x",4.6).attr("y",yy).attr("dy","0.35em").attr("font-family",FONT)
      .attr("font-size",3.7).attr("fill","#555").text(p.legend[i]);
  });

  // panel tag
  g.append("text").attr("x",p.tagPos[0]).attr("y",p.tagPos[1]).attr("text-anchor","middle")
    .attr("font-family","Liberation Serif, Times New Roman, serif").attr("font-size",14).attr("fill","#000").text(p.tag);
});
</script>
</body></html>
